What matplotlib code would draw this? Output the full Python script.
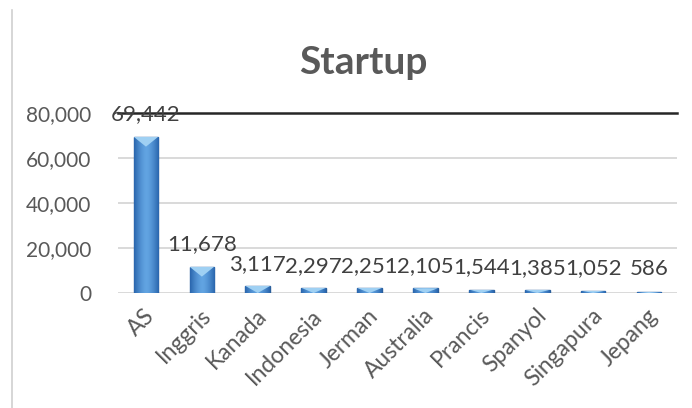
import numpy as np
import matplotlib
matplotlib.use("Agg")
import matplotlib.pyplot as plt
from matplotlib.lines import Line2D
from matplotlib.patches import Polygon
from matplotlib.ticker import FuncFormatter

# data
negara = ["AS", "Inggris", "Kanada", "Indonesia", "Jerman",
          "Australia", "Prancis", "Spanyol", "Singapura", "Jepang"]
startup = [69442, 11678, 3117, 2297, 2251, 2105, 1544, 1385, 1052, 586]
yticks = [0, 20000, 40000, 60000, 80000]

plt.rcParams['font.family'] = ['Lato', 'DejaVu Sans']
grey_txt = '#595959'

fig = plt.figure(figsize=(6.92, 4.08), dpi=100)
ax = fig.add_axes([118/692, 1-293/408, (677-118)/692, 180/408])

x = np.arange(len(negara))
bars = ax.bar(x, startup, width=0.44, color='#4a8ad0', edgecolor='#2b5f9c',
              linewidth=1.0, zorder=3)

# horizontal shading, lighter in the middle, like Excel's bevel
grad = np.linspace(-1, 1, 64)
shade = 1 - np.abs(grad) ** 1.5
shade = np.vstack([shade, shade])
cmap = matplotlib.colors.LinearSegmentedColormap.from_list(
    'bev', ['#2a66ad', '#62a4e2'])
bevel = 4400  # ~10 px of the y scale
for b in bars:
    bx, by = b.get_x(), b.get_y()
    w, h = b.get_width(), b.get_height()
    im = ax.imshow(shade, extent=[bx, bx + w, by, by + h], aspect='auto',
                   cmap=cmap, zorder=3.5, origin='lower')
    im.set_clip_path(b)
    # light triangle on top
    tri = Polygon([[bx, by + h], [bx + w, by + h],
                   [bx + w / 2, by + h - min(bevel, h)]],
                  closed=True, facecolor='#9fd0f3', edgecolor='none',
                  zorder=3.7)
    ax.add_patch(tri)
    tri.set_clip_path(b)

ax.set_xlim(-0.5, len(negara) - 0.5)
ax.set_ylim(0, 80000)

for v in yticks[:-1]:
    ax.axhline(v, color='#d9d9d9', lw=1.4, zorder=1)
ax.axhline(80000, color='#262626', lw=1.8, zorder=2, clip_on=False)

ax.set_yticks(yticks)
ax.yaxis.set_major_formatter(FuncFormatter(lambda v, p: f"{int(v):,}"))
ax.tick_params(axis='y', length=0, pad=19, labelsize=15, labelcolor=grey_txt)
ax.set_xticks(x + 0.1)
ax.set_xticklabels(negara, rotation=45, ha='right', va='center',
                   rotation_mode='anchor')
ax.tick_params(axis='x', length=0, pad=14, labelsize=16.5, labelcolor=grey_txt)
for s in ax.spines.values():
    s.set_visible(False)

for xi, v in zip(x, startup):
    ax.annotate(f"{v:,}", (xi, v), xytext=(0, 16), textcoords='offset points',
                ha='center', va='center', fontsize=16, color='#404040',
                zorder=5)

fig.text(363/692, 1-63/408, "Startup", ha='center', va='center',
         fontsize=28, fontweight='bold', color=grey_txt)

# left border of the chart area
fig.add_artist(Line2D([12/692, 12/692], [0, 1-10/408],
                      transform=fig.transFigure, color='#d0d0d0', lw=1.2))

fig.savefig("out.png", dpi=100)
